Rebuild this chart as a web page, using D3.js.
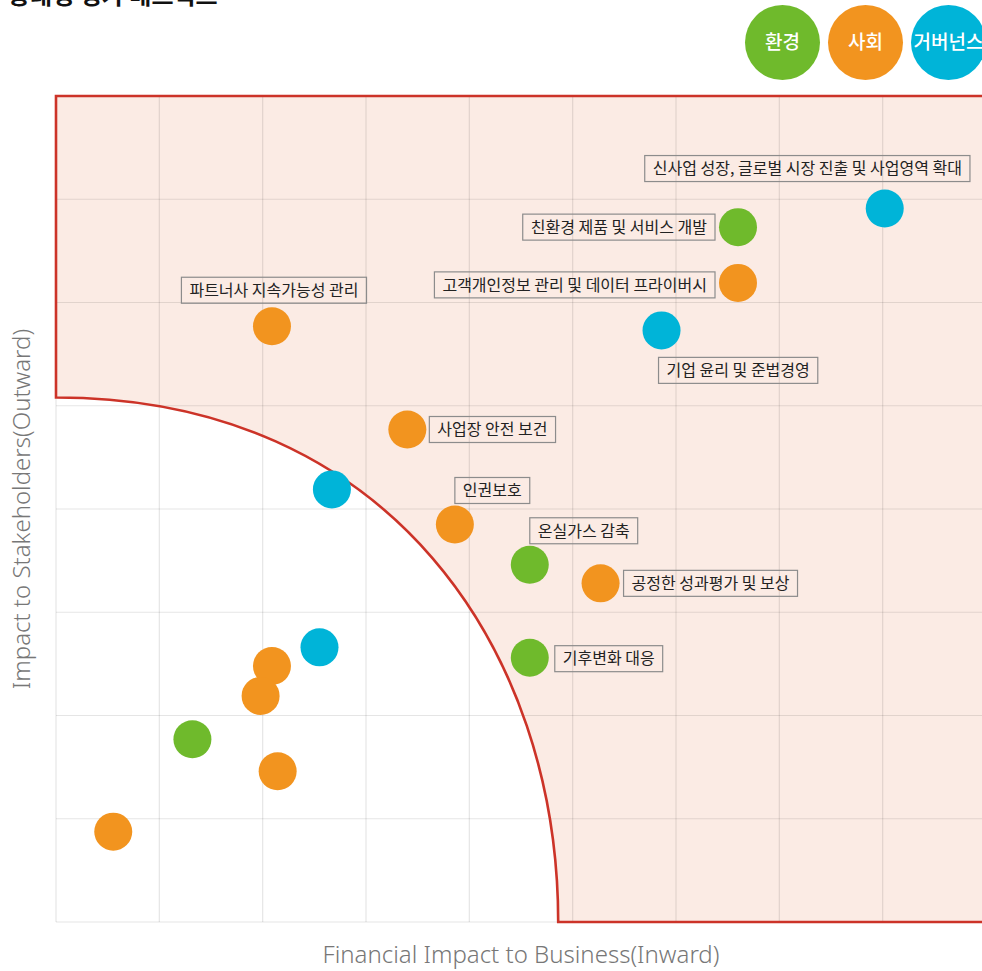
<!DOCTYPE html>
<html>
<head>
<meta charset="utf-8">
<script src="https://cdn.jsdelivr.net/npm/d3@7"></script>
<style>
  html, body { margin: 0; padding: 0; background: #fff; overflow: hidden; }
  svg { display: block; }
</style>
</head>
<body>
<svg id="chart" width="982" height="971"></svg>
<script>
// ---------------- data ----------------
const title = "중대성 평가 매트릭스";
const categories = ["환경", "사회", "거버넌스"];
const issueNames = [
  "신사업 성장, 글로벌 시장 진출 및 사업영역 확대",
  "친환경 제품 및 서비스 개발",
  "고객개인정보 관리 및 데이터 프라이버시",
  "기업 윤리 및 준법경영",
  "파트너사 지속가능성 관리",
  "사업장 안전 보건",
  "",
  "인권보호",
  "온실가스 감축",
  "공정한 성과평가 및 보상",
  "기후변화 대응",
  "", "", "", "", "", ""
];
const issueCategory = [
  "거버넌스", "환경", "사회", "거버넌스", "사회", "사회", "거버넌스",
  "사회", "환경", "사회", "환경", "거버넌스", "사회", "사회", "환경", "사회", "사회"
];
const financialImpact = [8.02, 6.60, 6.60, 5.86, 2.09, 3.40, 2.67, 3.86, 4.585, 5.27, 4.585, 2.55, 2.09, 1.98, 1.32, 2.145, 0.554];
const stakeholderImpact = [6.91, 6.73, 6.19, 5.73, 5.77, 4.77, 4.19, 3.85, 3.46, 3.28, 2.56, 2.66, 2.48, 2.19, 1.77, 1.46, 0.875];
const xDomain = [0, 9];
const yDomain = [0, 8];
const xTicks = [0, 1, 2, 3, 4, 5, 6, 7, 8, 9];
const yTicks = [0, 1, 2, 3, 4, 5, 6, 7, 8];
// materiality threshold curve (cubic curve from (0, thresholdY) to (thresholdX, 0))
const thresholdX = 4.86;
const thresholdY = 5.08;
const thresholdCtrlX = 3.24;
const thresholdCtrlY = 2.62;
const xAxisTitle = "Financial Impact to Business(Inward)";
const yAxisTitle = "Impact to Stakeholders(Outward)";

// ---------------- layout / style ----------------
const colors = { "환경": "#6fba2c", "사회": "#f2941f", "거버넌스": "#00b4d8" };
// label placement: anchor (start/end/middle of box relative to point), dx, dy (box top)
const labelPlacement = [
  { a: "start", dx: -240, dy: -53 },
  { a: "end", dx: -23, dy: -13 },
  { a: "end", dx: -23, dy: -11 },
  { a: "start", dx: -3, dy: 27 },
  { a: "middle", dx: 2, dy: -49 },
  { a: "start", dx: 22, dy: -13 },
  null,
  { a: "start", dx: 0, dy: -47 },
  { a: "start", dx: 0, dy: -47 },
  { a: "start", dx: 23, dy: -13 },
  { a: "start", dx: 25, dy: -12 },
  null, null, null, null, null, null
];

const svg = d3.select("#chart");
const plot = { left: 56, right: 986, top: 96, bottom: 922 };
const x = d3.scaleLinear().domain(xDomain).range([plot.left, plot.right]);
const y = d3.scaleLinear().domain(yDomain).range([plot.bottom, plot.top]);
const krFont = "'Noto Sans CJK KR', 'Noto Sans', sans-serif";
const enFont = "'Noto Sans', 'Open Sans', sans-serif";

// title (cut off at top, as in the source)
svg.append("text")
  .attr("x", 8).attr("y", 4)
  .attr("font-family", krFont).attr("font-weight", 700).attr("font-size", 24)
  .attr("fill", "#111")
  .text(title);

// legend
const leg = svg.append("g");
categories.forEach((c, i) => {
  const cx = 782.5 + i * 83;
  leg.append("circle").attr("cx", cx).attr("cy", 42.5).attr("r", 37.5).attr("fill", colors[c]);
  leg.append("text").attr("x", cx).attr("y", 42.5).attr("dy", "0.36em")
    .attr("text-anchor", "middle").attr("font-family", krFont).attr("font-weight", 500)
    .attr("font-size", 19).attr("fill", "#fff").text(c);
});

// material region
const regionPath = [
  "M", x(0), y(thresholdY),
  "L", x(0), y(yDomain[1]),
  "L", x(xDomain[1]), y(yDomain[1]),
  "L", x(xDomain[1]), y(0),
  "L", x(thresholdX), y(0),
  "C", x(thresholdX), y(thresholdCtrlY), x(thresholdCtrlX), y(thresholdY), x(0), y(thresholdY),
  "Z"
].join(" ");
svg.append("path").attr("d", regionPath).attr("fill", "#fbebe4").attr("stroke", "none");

// grid
const grid = svg.append("g").attr("stroke", "rgba(0,0,0,0.1)").attr("stroke-width", 1.2);
xTicks.forEach(t => grid.append("line").attr("x1", x(t)).attr("x2", x(t)).attr("y1", y(yDomain[0])).attr("y2", y(yDomain[1])));
yTicks.forEach(t => grid.append("line").attr("x1", x(xDomain[0])).attr("x2", x(xDomain[1])).attr("y1", y(t)).attr("y2", y(t)));

svg.append("path").attr("d", regionPath).attr("fill", "none")
  .attr("stroke", "#cc3328").attr("stroke-width", 2.6).attr("stroke-linejoin", "miter");

// axis titles
svg.append("text")
  .attr("x", (plot.left + plot.right) / 2).attr("y", 963)
  .attr("text-anchor", "middle").attr("font-family", enFont)
  .attr("font-weight", 300).attr("font-size", 24).attr("fill", "#777")
  .text(xAxisTitle);
svg.append("text")
  .attr("transform", `translate(30, ${(plot.top + plot.bottom) / 2}) rotate(-90)`)
  .attr("text-anchor", "middle").attr("font-family", enFont)
  .attr("font-weight", 300).attr("font-size", 24).attr("fill", "#777")
  .text(yAxisTitle);

// points
const pts = financialImpact.map((v, i) => ({ fx: v, sy: stakeholderImpact[i], cat: issueCategory[i], name: issueNames[i], lp: labelPlacement[i] }));
svg.append("g").selectAll("circle").data(pts).join("circle")
  .attr("cx", d => x(d.fx)).attr("cy", d => y(d.sy)).attr("r", 19)
  .attr("fill", d => colors[d.cat]);

// labels
const lg = svg.append("g");
pts.filter(d => d.name && d.lp).forEach(d => {
  const px = x(d.fx), py = y(d.sy);
  const g = lg.append("g");
  const t = g.append("text").attr("font-family", krFont).attr("font-size", 16)
    .attr("fill", "#222").text(d.name);
  const w = t.node().getComputedTextLength() + 16;
  const h = 26;
  let left;
  if (d.lp.a === "start") left = px + d.lp.dx;
  else if (d.lp.a === "end") left = px + d.lp.dx - w;
  else left = px + d.lp.dx - w / 2;
  const top = py + d.lp.dy;
  g.insert("rect", "text").attr("x", left).attr("y", top).attr("width", w).attr("height", h)
    .attr("fill", "none").attr("stroke", "#8c8c8c").attr("stroke-width", 1.2);
  t.attr("x", left + w / 2).attr("y", top + h / 2).attr("dy", "0.36em").attr("text-anchor", "middle");
});
</script>
</body>
</html>
